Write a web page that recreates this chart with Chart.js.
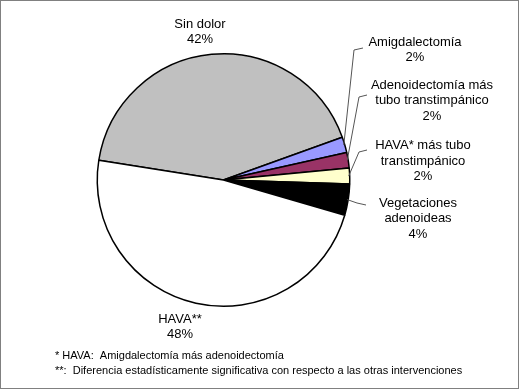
<!DOCTYPE html>
<html lang="es">
<head>
	<meta charset="UTF-8">
	<title>Dolor postoperatorio</title>
	<style>
		body {
			margin: 0;
			background-color: white;
		}
		canvas {
			display: block;
		}
	</style>
	<script src="https://cdn.jsdelivr.net/npm/chart.js"></script>
</head>
<body>
<canvas id="pie" width="520" height="390"></canvas>
<script>
	// datos (porcentajes)
	const categories = ['Sin dolor', 'Amigdalectomía', 'Adenoidectomía más\ntubo transtimpánico', 'HAVA* más tubo\ntranstimpánico', 'Vegetaciones\nadenoideas', 'HAVA**'];
	const values = [42, 2, 2, 2, 4, 48];
	const footnotes = ['* HAVA:  Amigdalectomía más adenoidectomía', '**:  Diferencia estadísticamente significativa con respecto a las otras intervenciones'];

	const sliceColors = ['#C0C0C0', '#9999FF', '#993366', '#FFFFCC', '#000000', '#FFFFFF'];

	// posición de las etiquetas (centro de la primera línea) y líneas guía
	const labelPos = [
		{ x: 200, y: 24 },
		{ x: 415, y: 42, lead: [363, 48, 354, 50] },
		{ x: 432, y: 85, lead: [367, 95, 359, 97] },
		{ x: 423, y: 145.5, lead: [367, 150, 359, 152] },
		{ x: 418, y: 203, lead: [366, 205, 357, 203] },
		{ x: 180, y: 319 }
	];
	const lineHeight = 15.5;

	const total = values.reduce((a, b) => a + b, 0);

	const labelPlugin = {
		id: 'sliceLabels',
		afterDraw(chart) {
			const ctx = chart.ctx;
			const arcs = chart.getDatasetMeta(0).data;
			ctx.save();
			ctx.font = '13px "Liberation Sans", Arial, sans-serif';
			ctx.fillStyle = '#000';
			ctx.textAlign = 'center';
			ctx.textBaseline = 'middle';
			arcs.forEach((arc, i) => {
				const pos = labelPos[i];
				const pct = Math.round(values[i] / total * 100) + '%';
				const lines = categories[i].split('\n').concat([pct]);
				lines.forEach((t, k) => ctx.fillText(t, pos.x, pos.y + k * lineHeight));
				if (pos.lead) {
					const p = arc.getProps(['x', 'y', 'startAngle', 'endAngle', 'outerRadius'], true);
					const mid = (p.startAngle + p.endAngle) / 2;
					const ex = p.x + Math.cos(mid) * (p.outerRadius - 1);
					const ey = p.y + Math.sin(mid) * (p.outerRadius - 1);
					ctx.beginPath();
					ctx.strokeStyle = '#555';
					ctx.lineWidth = 1;
					ctx.moveTo(pos.lead[0], pos.lead[1]);
					ctx.lineTo(pos.lead[2], pos.lead[3]);
					ctx.lineTo(ex, ey);
					ctx.stroke();
				}
			});

			// notas al pie
			ctx.font = '11px "Liberation Sans", Arial, sans-serif';
			ctx.textAlign = 'left';
			footnotes.forEach((t, k) => ctx.fillText(t, 55, 356 + k * 15));

			// marco
			ctx.strokeStyle = '#808080';
			ctx.lineWidth = 1;
			ctx.strokeRect(0.5, 0.5, 518, 388);
			ctx.restore();
		}
	};

	new Chart(document.getElementById('pie').getContext('2d'), {
		type: 'pie',
		data: {
			labels: categories,
			datasets: [{
				data: values,
				backgroundColor: sliceColors,
				borderColor: '#000',
				borderWidth: 1.5,
				hoverOffset: 0
			}]
		},
		options: {
			responsive: false,
			animation: false,
			events: [],
			rotation: 279,
			layout: {
				padding: { left: 96.5, right: 169.5, top: 53, bottom: 83 }
			},
			plugins: {
				legend: { display: false },
				tooltip: { enabled: false }
			}
		},
		plugins: [labelPlugin]
	});
</script>
</body>
</html>
